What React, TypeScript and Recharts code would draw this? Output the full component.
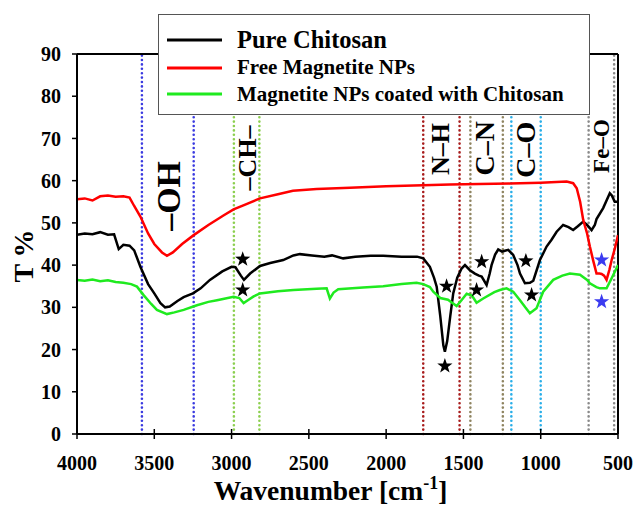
import React from "react";
import {
  ComposedChart,
  Line,
  XAxis,
  YAxis,
  ReferenceLine,
  ReferenceDot,
  Legend,
  Label,
} from "recharts";

const FONT = "'Liberation Serif', 'Times New Roman', Times, serif";

// Pure chitosan (black)
const chitosanWn = [
  4000, 3950, 3900, 3850, 3800, 3760, 3730, 3700, 3660, 3630, 3590, 3540, 3500,
  3460, 3430, 3400, 3350, 3310, 3250, 3200, 3140, 3060, 3000, 2975, 2940, 2920,
  2880, 2816, 2750, 2666, 2600, 2558, 2480, 2400, 2350, 2278, 2200, 2100, 2019,
  1900, 1800, 1760, 1717, 1690, 1673, 1650, 1630, 1620, 1605, 1585, 1566, 1540,
  1512, 1490, 1458, 1426, 1400, 1382, 1350, 1330, 1318, 1295, 1275, 1250, 1232,
  1210, 1178, 1150, 1134, 1102, 1070, 1048, 1005, 962, 930, 897, 855, 820, 790,
  760, 725, 700, 671, 650, 639, 596, 553, 540, 521, 500,
];
const chitosanT = [
  47.2, 47.5, 47.3, 47.8, 47.2, 47.3, 43.8, 44.8, 44.6, 43.5, 39.6, 35.5, 33.3,
  31, 30, 30.2, 31.5, 32.4, 33.3, 34.5, 36.5, 38.5, 39.6, 39.5, 37.5, 36.5,
  38, 39.8, 40.5, 41.2, 42.3, 42.6, 42.3, 42, 42.3, 41.6, 42, 42.2, 42.2,
  42, 42, 41.6, 39.6, 37, 34.9, 28, 21, 19.5, 22, 28, 33.3, 37,
  39.2, 40, 38.8, 38, 37.5, 37.3, 35.3, 38, 40, 42.5, 43.7, 43.2, 43.4,
  43.6, 42.4, 40, 38, 35.7, 35.8, 36.3, 41.2, 44.4, 46, 47.9, 49.5, 49, 48.3,
  49.2, 50.3, 49.5, 48.3, 49.5, 50.9, 53.5, 57, 56.5, 55, 55,
];

// Free magnetite NPs (red)
const magnetiteWn = [
  4000, 3950, 3900, 3850, 3800, 3750, 3700, 3660, 3630, 3590, 3540, 3500, 3450,
  3418, 3380, 3320, 3245, 3150, 3050, 2987, 2900, 2816, 2700, 2603, 2450, 2234,
  2000, 1762, 1587, 1400, 1200, 1000, 832, 790, 767, 745, 725, 700, 682, 660,
  639, 620, 606, 590, 574, 555, 541, 520, 500,
];
const magnetiteT = [
  55.6, 55.8, 55.3, 56.3, 56.5, 56.2, 56.3, 56, 54, 51.5, 47.5, 45, 43,
  42.2, 43, 45, 47.1, 49.5, 51.8, 53.2, 54.5, 55.8, 56.8, 57.6, 58, 58.3,
  58.7, 58.9, 59.1, 59.2, 59.3, 59.5, 59.8, 59.4, 58.2, 55, 50.7, 47.5, 44.4, 41,
  38, 38, 37.9, 37.5, 36.5, 39, 41.2, 44, 47.1,
];

// Magnetite NPs coated with chitosan (green)
const coatedWn = [
  4000, 3950, 3900, 3850, 3800, 3750, 3700, 3650, 3612, 3569, 3520, 3483, 3418,
  3370, 3310, 3224, 3150, 3094, 3040, 2987, 2950, 2922, 2890, 2857, 2816, 2700,
  2600, 2450, 2385, 2364, 2340, 2310, 2150, 2019, 1900, 1803, 1760, 1717, 1695,
  1650, 1600, 1544, 1510, 1479, 1445, 1415, 1372, 1300, 1264, 1221, 1178, 1134,
  1100, 1070, 1027, 984, 919, 860, 811, 746, 700, 682, 640, 617, 574, 541, 520,
  500,
];
const coatedT = [
  36.5, 36.3, 36.6, 36.2, 36.4, 36, 35.8, 35.5, 34.9, 32.9, 30.8, 29.4, 28.4,
  28.8, 29.4, 30.5, 31.3, 31.7, 32.1, 32.5, 32.2, 31, 31.8, 32.6, 33.3, 33.8,
  34.1, 34.4, 34.5, 32.1, 33.5, 34.3, 34.7, 35, 35.5, 35.8, 35.5, 34.8, 33.7,
  32.2, 31.8, 30.3, 31.8, 33.2, 32.8, 31.1, 32.1, 33.6, 34.1, 34.5, 33.7, 31.7,
  30, 28.6, 29.8, 33.7, 36.5, 37.5, 38, 37.7, 36.5, 35.7, 34.8, 34.5, 34.5, 36.9, 38.5,
  40,
];

const xTicks = [4000, 3500, 3000, 2500, 2000, 1500, 1000, 500];
const yTicks = [0, 10, 20, 30, 40, 50, 60, 70, 80, 90];

// legend order as in the figure
const seriesNames = [
  "Pure Chitosan",
  "Free Magnetite NPs",
  "Magnetite NPs coated with Chitosan",
];

// dotted band markers
const bandWn = [3580, 3245, 2985, 2820, 1760, 1525, 1455, 1245, 1190, 1000, 690, 525];
const bandColors = [
  "#3a3ae0", "#3a3ae0", "#8ccf4f", "#8ccf4f", "#a81c1c", "#a81c1c",
  "#8f8460", "#8f8460", "#29aee8", "#29aee8", "#8a8a8a", "#8a8a8a",
];

// band names (rotated)
const bandNames = ["–OH", "–CH–", "N–H", "C–N", "C–O", "Fe–O"];
const bandNameWn = [3411, 2900, 1646, 1361, 1096, 604];
const bandNameT = [56.4, 65.4, 67.5, 67.7, 67.3, 68.2];
const bandNameSize = [34, 26, 26, 28, 28, 23];

// star markers
const blackStarWn = [2928, 2928, 1609, 1620, 1382, 1415, 1096, 1059];
const blackStarT = [41.4, 34.1, 35, 16.1, 40.8, 34.1, 41, 32.9];
const blueStarWn = [606, 606];
const blueStarT = [41.2, 31.3];

const toPoints = (wn: number[], t: number[]) => wn.map((x, i) => ({ x, y: t[i] }));

const chitosanData = toPoints(chitosanWn, chitosanT);
const magnetiteData = toPoints(magnetiteWn, magnetiteT);
const coatedData = toPoints(coatedWn, coatedT);

const Star = (props: any) => {
  const { cx, cy, fill } = props;
  const R = 8;
  const r = 3.2;
  const pts: string[] = [];
  for (let i = 0; i < 10; i++) {
    const rad = i % 2 === 0 ? R : r;
    const a = -Math.PI / 2 + (i * Math.PI) / 5;
    pts.push(`${cx + rad * Math.cos(a)},${cy + rad * Math.sin(a)}`);
  }
  return <polygon points={pts.join(" ")} fill={fill} />;
};

const makeBandName = (text: string, size: number) => (props: any) => {
  const { cx, cy } = props;
  return (
    <text
      x={cx}
      y={cy}
      transform={`rotate(-90 ${cx} ${cy})`}
      textAnchor="middle"
      dominantBaseline="central"
      style={{ fontFamily: FONT, fontSize: size, fontWeight: "bold" }}
      fill="#000"
    >
      {text}
    </text>
  );
};

const XTick = (props: any) => {
  const { x, y, payload } = props;
  return (
    <g>
      <line x1={x} x2={x} y1={y - 10} y2={y} stroke="#000" strokeWidth={1.5} />
      <text
        x={x}
        y={y + 31}
        textAnchor="middle"
        style={{ fontFamily: FONT, fontSize: 20, fontWeight: "bold" }}
        fill="#000"
      >
        {payload.value}
      </text>
    </g>
  );
};

const legendLineY = [25, 53, 79];
const legendTextY = [33, 59, 86];
const legendFont = [24.5, 21, 21];

const LegendBox = (props: any) => {
  const { payload = [] } = props;
  const items = seriesNames.map((n) => payload.find((p: any) => p.value === n)).filter(Boolean);
  return (
    <div
      style={{
        width: 432,
        height: 101,
        background: "#fff",
        border: "1.5px solid #555",
        boxSizing: "border-box",
      }}
    >
      <svg width={429} height={98} style={{ display: "block" }}>
        {items.map((p: any, i: number) => (
          <g key={p.value}>
            <line x1={8} x2={63} y1={legendLineY[i]} y2={legendLineY[i]} stroke={p.color} strokeWidth={3} />
            <text
              x={78}
              y={legendTextY[i]}
              style={{ fontFamily: FONT, fontSize: legendFont[i], fontWeight: "bold" }}
              fill="#000"
            >
              {p.value}
            </text>
          </g>
        ))}
      </svg>
    </div>
  );
};

export default function App() {
  return (
    <div style={{ position: "absolute", left: 0, top: 0, background: "#fff", fontFamily: FONT }}>
      <ComposedChart
        width={634}
        height={507}
        margin={{ top: 54, right: 16, bottom: 43, left: 0 }}
      >
        <XAxis
          type="number"
          dataKey="x"
          domain={[500, 4000]}
          ticks={xTicks}
          reversed
          allowDataOverflow
          height={30}
          tickSize={5}
          tickMargin={0}
          tickLine={false}
          tick={<XTick />}
          axisLine={{ stroke: "#000", strokeWidth: 2 }}
        >
          <Label
            content={(p: any) => {
              const { x, width } = p.viewBox;
              return (
                <text
                  x={x + width / 2 - 17}
                  y={500}
                  textAnchor="middle"
                  style={{ fontFamily: FONT, fontSize: 27.5, fontWeight: "bold" }}
                  fill="#000"
                >
                  Wavenumber [cm
                  <tspan dy={-11} style={{ fontSize: 18 }}>-1</tspan>
                  <tspan dy={11}>]</tspan>
                </text>
              );
            }}
          />
        </XAxis>
        <YAxis
          type="number"
          dataKey="y"
          domain={[0, 90]}
          ticks={yTicks}
          width={77}
          tickSize={5}
          tickMargin={11}
          tickLine={{ stroke: "#000", strokeWidth: 1.5 }}
          axisLine={{ stroke: "#000", strokeWidth: 2 }}
          tick={{ fill: "#000", fontSize: 20, fontWeight: "bold", style: { fontFamily: FONT } }}
        >
          <Label
            content={(p: any) => {
              const { y, height } = p.viewBox;
              const cx = 23;
              const cy = y + height / 2 + 12;
              return (
                <text
                  x={cx}
                  y={cy}
                  transform={`rotate(-90 ${cx} ${cy})`}
                  textAnchor="middle"
                  dominantBaseline="central"
                  style={{ fontFamily: FONT, fontSize: 28, fontWeight: "bold" }}
                  fill="#000"
                >
                  T %
                </text>
              );
            }}
          />
        </YAxis>

        {bandWn.map((w, i) => (
          <ReferenceLine
            key={`band-${i}`}
            x={w}
            stroke={bandColors[i]}
            strokeWidth={2.6}
            strokeDasharray="0 4.4"
            strokeLinecap="round"
          />
        ))}
        <ReferenceLine y={90} stroke="#000" strokeWidth={2} />
        <ReferenceLine x={500} stroke="#000" strokeWidth={2} />

        <Line
          data={chitosanData}
          dataKey="y"
          name={seriesNames[0]}
          stroke="#000000"
          strokeWidth={2.5}
          dot={false}
          type="linear"
          isAnimationActive={false}
        />
        <Line
          data={magnetiteData}
          dataKey="y"
          name={seriesNames[1]}
          stroke="#ff0000"
          strokeWidth={2.5}
          dot={false}
          type="linear"
          isAnimationActive={false}
        />
        <Line
          data={coatedData}
          dataKey="y"
          name={seriesNames[2]}
          stroke="#1fea1f"
          strokeWidth={2.5}
          dot={false}
          type="linear"
          isAnimationActive={false}
        />

        {blackStarWn.map((w, i) => (
          <ReferenceDot key={`bs-${i}`} x={w} y={blackStarT[i]} r={8} fill="#000" shape={<Star />} />
        ))}
        {blueStarWn.map((w, i) => (
          <ReferenceDot key={`us-${i}`} x={w} y={blueStarT[i]} r={8} fill="#3b3bf0" shape={<Star />} />
        ))}
        {bandNames.map((n, i) => (
          <ReferenceDot
            key={`bn-${i}`}
            x={bandNameWn[i]}
            y={bandNameT[i]}
            r={1}
            shape={makeBandName(n, bandNameSize[i])}
          />
        ))}

        <Legend
          layout="vertical"
          align="center"
          verticalAlign="middle"
          width={432}
          height={101}
          wrapperStyle={{ top: 14, left: 158, width: 432, height: 101 }}
          content={<LegendBox />}
        />
      </ComposedChart>
    </div>
  );
}
